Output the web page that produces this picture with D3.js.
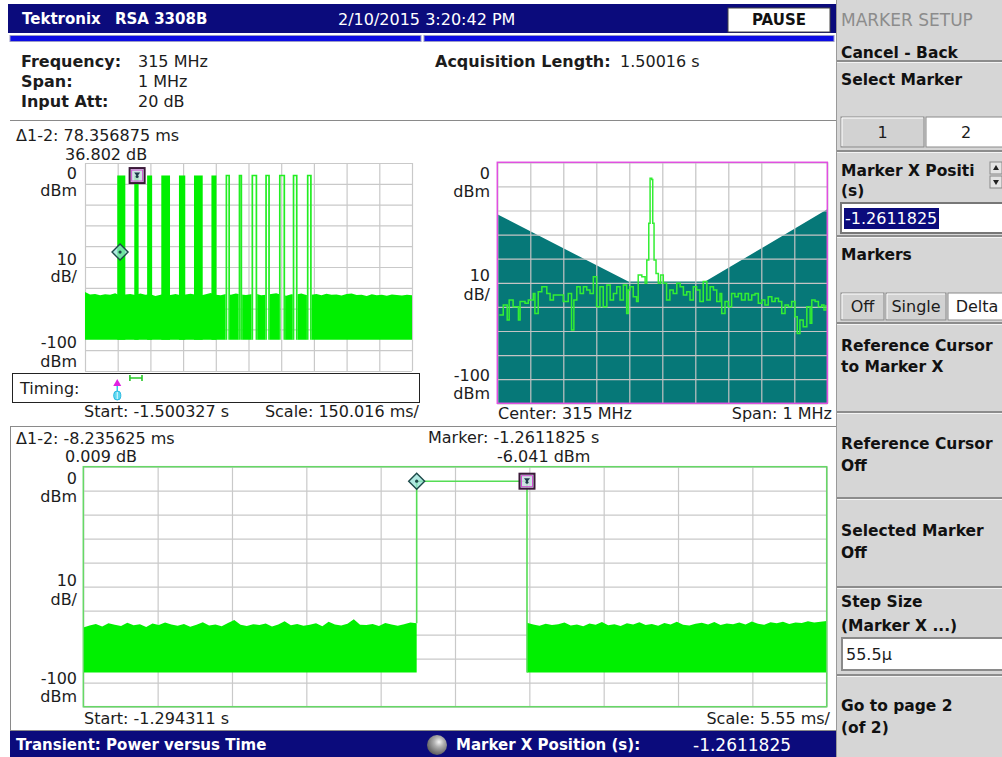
<!DOCTYPE html>
<html><head><meta charset="utf-8">
<script src="https://cdn.jsdelivr.net/npm/d3@7"></script>
<style>
body{margin:0;background:#fff;}
svg{display:block;}
text{font-family:"DejaVu Sans",sans-serif;}
</style></head><body>
<svg id="c" width="1002" height="757"></svg>
<script>
// ================= DATA =================
// Top-left: Power vs Time overview (time in ms from start -1.500327 s)
const tlSpanMs = 1500.16;
const tlDivMs = 150.016;
const dbDivTicks = [0,-10,-20,-30,-40,-50,-60,-70,-80,-90,-100];
const pulseStartMs = [148,226,285,350,431,500,580,645,705,764,827,890,953,1018];
const pulseEndMs   = [185,246,308,390,460,540,603,665,721,790,848,918,975,1040];
const pulseFilled  = [true,true,true,true,true,true,true,false,false,false,false,false,false,false];
const pulseLevelDbm = -6.0;
const tlNoiseFloorDbm = -85;
const tlNoiseTopDbm = [-62.0,-63.2,-63.0,-63.6,-63.1,-63.4,-62.6,-63.8,-63.2,-63.0,-63.5,-62.8,-63.4,-63.1,-63.9,-63.3,
  -62.7,-63.5,-63.0,-63.6,-63.2,-62.9,-63.4,-63.7,-63.1,-62.5,-63.3,-63.6,-63.0,-63.4,-62.8,-63.2,-63.5,-63.1,-62.9,
  -63.6,-63.3,-63.0,-62.6,-63.4,-63.8,-63.1,-63.2,-62.7,-63.5,-63.3,-63.0,-63.6,-62.9,-63.4,-63.2,-63.7,-63.0,-62.8,
  -63.5,-63.3,-63.9,-63.1,-63.6,-63.4,-63.8,-63.2,-63.5,-63.7,-63.3,-63.6];
const tlMarkerMs  = [160.8, 239.14];
const tlMarkerDbm = [-42.843, -6.041];
const tlDeltaText = ["78.356875 ms", "36.802 dB"];
const timingTriggerMs = 148;
const zoomWindowMs = [206.016, 261.516];

// Top-right: spectrum (kHz offset from 315 MHz, dBm)
const specCenterMHz = 315, specSpanKHz = 1000;
const freqDivTicks = [-500,-400,-300,-200,-100,0,100,200,300,400,500];
const maskKHz = [-500,-103,130,500];
const maskDbm = [-21.6,-49.5,-49.5,-19.5];
const spectrum = [[-494,-63.4],[-482,-59.2],[-470,-65.4],[-464,-57.1],[-452,-59.9],[-436,-65.4],[-431,-57.8],
 [-416,-58.5],[-406,-57.1],[-391,-54.4],[-386,-62.7],[-376,-53.7],[-365,-51.6],[-350,-54.4],[-340,-57.1],[-330,-55.1],
 [-315,-55.1],[-300,-57.8],[-285,-54.4],[-275,-69.6],[-268,-57.1],[-259,-51.6],[-249,-54.4],[-239,-51.6],[-229,-53.0],
 [-219,-54.4],[-209,-47.5],[-199,-59.9],[-189,-51.6],[-179,-59.9],[-168,-50.9],[-158,-57.1],[-148,-54.4],[-138,-51.6],
 [-128,-57.1],[-118,-50.9],[-108,-62.7],[-103,-53.0],[-98,-51.6],[-88,-55.8],[-78,-57.8],[-73,-46.8],[-62,-47.5],
 [-52,-50.2],[-47,-40.5],[-41,-25.3],[-37,-6.6],[-32,-7.1],[-29,-25.3],[-25,-40.5],[-19,-46.1],[-12,-50.2],[-5,-46.8],
 [3,-50.2],[13,-57.1],[23,-53.0],[33,-54.4],[44,-50.2],[54,-51.6],[64,-55.1],[74,-53.7],[84,-57.1],[94,-51.6],
 [104,-53.0],[114,-57.8],[124,-49.5],[135,-57.1],[145,-51.6],[155,-53.0],[165,-57.8],[175,-54.4],[180,-62.7],
 [190,-57.8],[200,-59.9],[210,-54.4],[220,-55.8],[230,-54.4],[240,-57.1],[251,-54.4],[261,-57.1],[271,-55.1],
 [281,-54.4],[291,-58.5],[301,-57.1],[311,-59.2],[321,-55.8],[332,-57.8],[342,-56.4],[352,-57.8],[362,-62.7],
 [372,-59.2],[382,-59.9],[392,-57.8],[402,-64.1],[409,-71.0],[417,-65.4],[427,-68.2],[438,-59.9],[448,-66.8],
 [453,-57.1],[463,-57.8],[473,-59.9],[483,-59.2],[490,-61.3],[496,-59.2]];

// Bottom: zoomed Power vs Time (ms from start -1.294311 s)
const bSpanMs = 55.5;
const bDivMs = 5.55;
const bPulseMs = [24.889, 33.125];
const bNoiseFloorDbm = -85.7;
const bNoiseTopLeft = [-67.0,-66.2,-65.5,-66.6,-65.2,-65.9,-66.4,-65.0,-66.1,-65.6,
 -66.8,-65.3,-66.0,-64.9,-65.8,-66.3,-65.5,-66.7,-65.9,-64.8,
 -66.2,-65.7,-66.5,-65.1,-63.9,-65.9,-66.4,-65.6,-66.0,-65.3,
 -66.6,-65.8,-64.4,-66.1,-65.5,-66.3,-65.9,-65.2,-66.5,-64.6,
 -65.8,-66.2,-65.4,-63.6,-65.9,-66.0,-65.5,-66.4,-65.1,-65.7,
 -66.3,-65.6,-64.9,-65.2];
const bNoiseTopRight = [-65.0,-65.8,-66.3,-65.4,-66.0,-65.6,-64.9,-66.2,-65.7,-66.5,
 -65.3,-65.9,-64.7,-66.1,-65.6,-66.4,-65.2,-65.8,-64.8,-66.0,
 -65.5,-66.3,-65.1,-65.7,-64.6,-65.9,-66.2,-65.4,-65.0,-65.8,
 -64.7,-66.0,-65.3,-65.6,-64.9,-65.7,-64.5,-65.4,-65.9,-64.8,
 -65.2,-64.6,-65.5,-64.9,-65.1,-64.4,-64.9,-64.6,-64.3];
const bMarkerMs  = [24.889, 33.125];
const bMarkerDbm = [-6.050, -6.041];

// ================= DRAW =================
const NAVY = "#0b0b7c";
const GRID = "#c9c9c9";
const GREEN = "#00f000";
const LINEGREEN = "#55dd55";
const svg = d3.select("#c");
svg.append("rect").attr("width",1002).attr("height",757).attr("fill","#fff");

function txt(x, yc, s, o = {}) {
  const size = o.size || 16;
  const t = svg.append("text").attr("x", x).attr("y", yc + 0.36 * size).text(s)
    .attr("font-size", size).attr("fill", o.fill || "#1c1c1c")
    .attr("font-weight", o.weight || "normal").attr("text-anchor", o.anchor || "start");
  if (o.family) t.attr("font-family", o.family);
  return t;
}
function grid(g, x, y, xt, yt, color) {
  const [yb, yt0] = y.range();
  const [xl, xr] = x.range();
  g.append("g").attr("transform", `translate(0,${yb})`)
    .call(d3.axisBottom(x).tickValues(xt).tickSize(-(yb - yt0)).tickFormat(""))
    .call(s => s.select(".domain").remove())
    .selectAll("line").attr("stroke", color).attr("stroke-width", 1.2);
  g.append("g").attr("transform", `translate(${xl},0)`)
    .call(d3.axisLeft(y).tickValues(yt).tickSize(-(xr - xl)).tickFormat(""))
    .call(s => s.select(".domain").remove())
    .selectAll("line").attr("stroke", color).attr("stroke-width", 1.2);
}
function diamond(g, x, y) {
  g.append("path").attr("d", `M${x},${y-8}L${x+8},${y}L${x},${y+8}L${x-8},${y}Z`)
    .attr("fill", "rgba(150,225,215,0.75)").attr("stroke", "#1d4a4a").attr("stroke-width", 1.4);
  g.append("circle").attr("cx", x).attr("cy", y).attr("r", 1.6).attr("fill", "#1d4a4a");
}
function squareMarker(g, x, y) {
  g.append("rect").attr("x", x-7.5).attr("y", y-7.5).attr("width", 15).attr("height", 15)
    .attr("fill", "rgba(200,225,225,0.85)").attr("stroke", "#3a1838").attr("stroke-width", 2);
  g.append("rect").attr("x", x-5.5).attr("y", y-5.5).attr("width", 11).attr("height", 11)
    .attr("fill", "none").attr("stroke", "#d24fd2").attr("stroke-width", 1);
  g.append("path").attr("d", `M${x-3},${y-3}L${x+3},${y-3}L${x},${y+1}Z`).attr("fill", "#1d3a4a");
  g.append("circle").attr("cx", x).attr("cy", y+1).attr("r", 1.5).attr("fill", "#1d3a4a");
}

// ---- title bar
svg.append("rect").attr("x",8).attr("y",4).attr("width",828).attr("height",29).attr("fill",NAVY);
txt(22, 19, "Tektronix", {size:15, weight:"bold", fill:"#fff", family:"DejaVu Serif"});
txt(115, 19, "RSA 3308B", {size:15, weight:"bold", fill:"#fff"});
txt(338, 19, "2/10/2015 3:20:42 PM", {size:16, fill:"#fff"});
svg.append("rect").attr("x",728).attr("y",8).attr("width",102).attr("height",24).attr("fill","#fff").attr("stroke","#444");
txt(779, 20, "PAUSE", {size:15, weight:"bold", anchor:"middle", fill:"#111", family:"Liberation Sans"});
[[10,421],[424,834]].forEach(([a,b]) => svg.append("rect").attr("x",a).attr("y",35.5).attr("width",b-a).attr("height",6)
  .attr("fill","#0c0ce4").attr("stroke","#9a9ac8").attr("stroke-width",1));

// ---- settings block
txt(21, 61, "Frequency:", {weight:"bold"});
txt(21, 81.5, "Span:", {weight:"bold"});
txt(21, 101.5, "Input Att:", {weight:"bold"});
txt(138, 61, specCenterMHz + " MHz");
txt(138, 81.5, (specSpanKHz/1000) + " MHz");
txt(138, 101.5, "20 dB");
txt(435, 61, "Acquisition Length:", {weight:"bold"});
txt(620, 61, (tlSpanMs/1000).toFixed(5) + " s");
svg.append("line").attr("x1",10).attr("x2",836).attr("y1",120.5).attr("y2",120.5).attr("stroke","#8a8a8a");

// ================= TOP-LEFT =================
const xTL = d3.scaleLinear().domain([0, tlSpanMs]).range([85, 412]);
const yTL = d3.scaleLinear().domain([-100, 0]).range([371, 163]);
const gTL = svg.append("g");
grid(gTL, xTL, yTL, d3.range(11).map(i => i * tlDivMs), dbDivTicks, GRID);

// clip that removes noise inside hollow pulses
const hollow = pulseStartMs.map((s,i) => [s, pulseEndMs[i], pulseFilled[i]]).filter(d => !d[2]);
const keep = []; let cur = 0;
hollow.forEach(([s,e]) => { keep.push([cur, s]); cur = e; });
keep.push([cur, tlSpanMs]);
const defs = svg.append("defs");
defs.append("clipPath").attr("id","tlclip").selectAll("rect").data(keep).join("rect")
  .attr("x", d => xTL(d[0])).attr("width", d => xTL(d[1]) - xTL(d[0]))
  .attr("y", 150).attr("height", 240);
const tlNoise = tlNoiseTopDbm.map((v,i) => [i * tlSpanMs / (tlNoiseTopDbm.length - 1), v]);
gTL.append("path").attr("clip-path","url(#tlclip)")
  .attr("d", d3.area().x(d => xTL(d[0])).y0(yTL(tlNoiseFloorDbm)).y1(d => yTL(d[1])).curve(d3.curveLinear)(tlNoise))
  .attr("fill", GREEN);
pulseStartMs.forEach((s, i) => {
  const e = pulseEndMs[i];
  if (pulseFilled[i]) {
    gTL.append("rect").attr("x", xTL(s)).attr("width", xTL(e) - xTL(s))
      .attr("y", yTL(pulseLevelDbm)).attr("height", yTL(tlNoiseFloorDbm) - yTL(pulseLevelDbm)).attr("fill", GREEN);
  } else {
    gTL.append("path").attr("d", `M${xTL(s)+0.8},${yTL(tlNoiseFloorDbm)}V${yTL(pulseLevelDbm)}H${xTL(e)-0.8}V${yTL(tlNoiseFloorDbm)}`)
      .attr("fill","none").attr("stroke","#22ee22").attr("stroke-width",1.7);
  }
});
diamond(gTL, xTL(tlMarkerMs[0]), yTL(tlMarkerDbm[0]));
squareMarker(gTL, xTL(tlMarkerMs[1]), yTL(tlMarkerDbm[1]));
txt(16, 135.5, "\u03941-2: " + tlDeltaText[0]);
txt(65, 154.5, tlDeltaText[1]);
txt(77, 173, "0", {anchor:"end"});
txt(77, 190.5, "dBm", {anchor:"end"});
txt(77, 259, "10", {anchor:"end"});
txt(77, 276.5, "dB/", {anchor:"end"});
txt(77, 342.5, "-100", {anchor:"end"});
txt(77, 361.5, "dBm", {anchor:"end"});
// timing bar
svg.append("rect").attr("x",12.5).attr("y",373.5).attr("width",407).attr("height",29).attr("fill","#fff").attr("stroke","#222");
txt(20, 388, "Timing:");
const tx = xTL(timingTriggerMs);
svg.append("path").attr("d", `M${tx},${379}L${tx+4},${386}L${tx-4},${386}Z`).attr("fill","#e020e0");
svg.append("line").attr("x1",tx).attr("x2",tx).attr("y1",386).attr("y2",392).attr("stroke","#30c8e8").attr("stroke-width",1.5);
svg.append("rect").attr("x",tx-3.5).attr("y",391).attr("width",7).attr("height",9).attr("rx",3.5).attr("fill","#5fd8f0").attr("stroke","#28b8e0");
svg.append("line").attr("x1",tx).attr("x2",tx).attr("y1",392).attr("y2",399).attr("stroke","#e8fbff").attr("stroke-width",1);
const zx0 = xTL(zoomWindowMs[0]), zx1 = xTL(zoomWindowMs[1]);
svg.append("path").attr("d", `M${zx0},375V381M${zx0},378H${zx1}M${zx1},375V381`).attr("stroke","#28c828").attr("stroke-width",1.6).attr("fill","none");
txt(84, 411, "Start: -1.500327 s");
txt(419, 411, "Scale: " + tlDivMs.toFixed(3) + " ms/", {anchor:"end"});

// ================= TOP-RIGHT =================
const xTR = d3.scaleLinear().domain([-specSpanKHz/2, specSpanKHz/2]).range([497.3, 827.3]);
const yTR = d3.scaleLinear().domain([-100, 0]).range([403.3, 162.3]);
const gTR = svg.append("g");
const maskPts = maskKHz.map((k,i) => [k, maskDbm[i]]);
gTR.append("path").attr("d", d3.area().x(d => xTR(d[0])).y0(yTR(-100)).y1(d => yTR(d[1]))(maskPts)).attr("fill", "#067878");
grid(gTR, xTR, yTR, freqDivTicks, dbDivTicks, "#c4c4c4");
gTR.append("path").attr("d", d3.line().x(d => xTR(d[0])).y(d => yTR(d[1])).curve(d3.curveStepAfter)(spectrum))
  .attr("fill","none").attr("stroke","#33ee33").attr("stroke-width",1.5);
gTR.append("rect").attr("x",497.3).attr("y",162.3).attr("width",330).attr("height",241)
  .attr("fill","none").attr("stroke","#e050e0").attr("stroke-width",1.5);
txt(490, 173.3, "0", {anchor:"end"});
txt(490, 191.7, "dBm", {anchor:"end"});
txt(490, 275.5, "10", {anchor:"end"});
txt(490, 294, "dB/", {anchor:"end"});
txt(490, 375.5, "-100", {anchor:"end"});
txt(490, 393.3, "dBm", {anchor:"end"});
txt(498, 413.3, "Center: " + specCenterMHz + " MHz");
txt(832, 413.3, "Span: " + (specSpanKHz/1000) + " MHz", {anchor:"end"});

// ================= BOTTOM =================
svg.append("rect").attr("x",10.5).attr("y",426.5).attr("width",826).attr("height",304).attr("fill","none").attr("stroke","#8a8a8a");
const xB = d3.scaleLinear().domain([0, bSpanMs]).range([83.3, 826.7]);
const yB = d3.scaleLinear().domain([-100, 0]).range([706.7, 466.7]);
const gB = svg.append("g");
grid(gB, xB, yB, d3.range(11).map(i => i * bDivMs), dbDivTicks, GRID);
const nl = bNoiseTopLeft.map((v,i) => [i * bPulseMs[0] / (bNoiseTopLeft.length - 1), v]);
const nr = bNoiseTopRight.map((v,i) => [bPulseMs[1] + i * (bSpanMs - bPulseMs[1]) / (bNoiseTopRight.length - 1), v]);
const bArea = d3.area().x(d => xB(d[0])).y0(yB(bNoiseFloorDbm)).y1(d => yB(d[1]));
gB.append("path").attr("d", bArea(nl)).attr("fill", GREEN);
gB.append("path").attr("d", bArea(nr)).attr("fill", GREEN);
gB.append("path").attr("d", `M${xB(bPulseMs[0])},${yB(bNoiseTopLeft[bNoiseTopLeft.length-1])}V${yB(bMarkerDbm[0])}H${xB(bPulseMs[1])}V${yB(bNoiseFloorDbm)}`)
  .attr("fill","none").attr("stroke",LINEGREEN).attr("stroke-width",1.6);
gB.append("rect").attr("x",83.3).attr("y",466.7).attr("width",743.4).attr("height",240)
  .attr("fill","none").attr("stroke","#66d866").attr("stroke-width",1.5);
diamond(gB, xB(bMarkerMs[0]), yB(bMarkerDbm[0]));
squareMarker(gB, xB(bMarkerMs[1]), yB(bMarkerDbm[1]));
txt(16, 438, "\u03941-2: -8.235625 ms");
txt(65, 456.7, "0.009 dB");
txt(428, 437.5, "Marker: -1.2611825 s");
txt(497, 456, bMarkerDbm[1].toFixed(3) + " dBm");
txt(77, 478, "0", {anchor:"end"});
txt(77, 496.7, "dBm", {anchor:"end"});
txt(77, 580, "10", {anchor:"end"});
txt(77, 599, "dB/", {anchor:"end"});
txt(77, 678, "-100", {anchor:"end"});
txt(77, 696.7, "dBm", {anchor:"end"});
txt(84, 718, "Start: -1.294311 s");
txt(830, 718, "Scale: " + bDivMs.toFixed(2) + " ms/", {anchor:"end"});

// ---- status bar
svg.append("rect").attr("x",10).attr("y",731).attr("width",826).attr("height",26).attr("fill",NAVY);
txt(16, 745, "Transient: Power versus Time", {size:15, weight:"bold", fill:"#fff"});
const rg = defs.append("radialGradient").attr("id","knob").attr("cx","0.6").attr("cy","0.35").attr("r","0.7");
rg.append("stop").attr("offset","0").attr("stop-color","#f4f4f4");
rg.append("stop").attr("offset","0.35").attr("stop-color","#b0b0b0");
rg.append("stop").attr("offset","1").attr("stop-color","#555");
svg.append("circle").attr("cx",437).attr("cy",745).attr("r",10).attr("fill","url(#knob)");
txt(456, 745, "Marker X Position (s):", {size:15, weight:"bold", fill:"#fff"});
txt(693, 745, "-1.2611825", {size:17, fill:"#fff"});

// ================= SIDEBAR =================
svg.append("rect").attr("x",836).attr("y",0).attr("width",166).attr("height",757).attr("fill","#d6d6d6");
svg.append("line").attr("x1",836.5).attr("x2",836.5).attr("y1",0).attr("y2",757).attr("stroke","#9a9a9a");
[61,151,236,323,412,498,587,675].forEach(y => {
  svg.append("rect").attr("x",837).attr("y",y-1).attr("width",165).attr("height",2).attr("fill","#8c8c8c");
  svg.append("rect").attr("x",837).attr("y",y+1).attr("width",165).attr("height",1).attr("fill","#f4f4f4");
});
const SB = {size:15.5, weight:"bold", fill:"#111"};
txt(841, 20, "MARKER SETUP", {size:17, fill:"#8c8c8c"});
txt(841, 52, "Cancel - Back", SB);
txt(841, 79.5, "Select Marker", SB);
function button(x, y, w, h, label, selected) {
  svg.append("rect").attr("x",x).attr("y",y).attr("width",w).attr("height",h)
    .attr("fill", selected ? "#fff" : "#d2d2d2").attr("stroke", "#8a8a8a");
  if (!selected) {
    svg.append("path").attr("d",`M${x+1},${y+h-1}V${y+1}H${x+w-1}`).attr("stroke","#fff").attr("fill","none");
  }
  txt(x + w/2, y + h/2, label, {size:16, anchor:"middle"});
}
button(841, 117, 83, 30, "1", false);
button(926, 117, 80, 30, "2", true);
txt(841, 170, "Marker X Positi", SB);
svg.append("rect").attr("x",988).attr("y",160).attr("width",14).attr("height",30).attr("fill","#d6d6d6");
svg.append("rect").attr("x",990).attr("y",162).attr("width",12).attr("height",12).attr("fill","#e4e4e4").attr("stroke","#888");
svg.append("rect").attr("x",990).attr("y",176).attr("width",12).attr("height",12).attr("fill","#e4e4e4").attr("stroke","#888");
svg.append("path").attr("d","M996,165L999,170H993Z").attr("fill","#222");
svg.append("path").attr("d","M996,185L999,180H993Z").attr("fill","#222");
txt(841, 190, "(s)", SB);
svg.append("rect").attr("x",841).attr("y",203).attr("width",165).attr("height",30).attr("fill","#fff").attr("stroke","#777").attr("stroke-width",2);
svg.append("rect").attr("x",844).attr("y",208).attr("width",95).attr("height",21).attr("fill",NAVY);
txt(845, 218.5, "-1.2611825", {size:16, fill:"#fff"});
txt(841, 254.7, "Markers", SB);
button(841, 293, 43, 27, "Off", false);
button(886, 293, 60, 27, "Single", false);
button(948, 293, 58, 27, "Delta", true);
txt(841, 345.7, "Reference Cursor", SB);
txt(841, 366, "to Marker X", SB);
txt(841, 443.3, "Reference Cursor", SB);
txt(841, 465, "Off", SB);
txt(841, 530, "Selected Marker", SB);
txt(841, 552.5, "Off", SB);
txt(841, 601.7, "Step Size", SB);
txt(841, 625, "(Marker X ...)", SB);
svg.append("rect").attr("x",842).attr("y",638).attr("width",164).attr("height",32).attr("fill","#fff").attr("stroke","#8a8a8a").attr("stroke-width",2);
txt(846, 654, "55.5\u00b5", {size:16});
txt(841, 705, "Go to page 2", SB);
txt(841, 727.5, "(of 2)", SB);
</script>
</body></html>
